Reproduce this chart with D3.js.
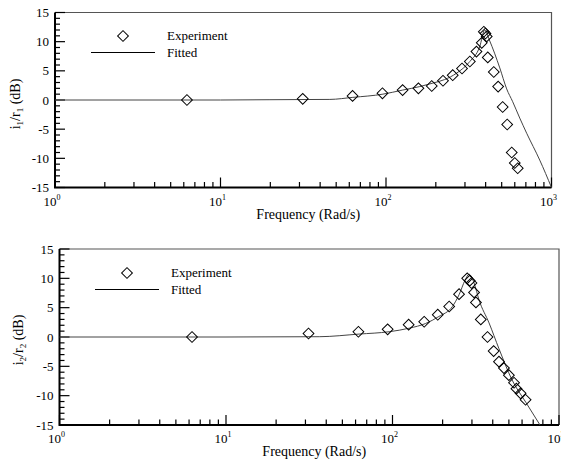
<!DOCTYPE html>
<html>
<head>
<meta charset="utf-8">
<script src="https://cdn.jsdelivr.net/npm/d3@7"></script>
<style>
body { margin: 0; background: #fff; }
</style>
</head>
<body>
<svg id="chart" width="561" height="465"></svg>
<script>
var TOP_EXP_FREQ = [6.27, 31.4, 62.8, 95.2, 126, 157, 189, 221, 253, 288, 321, 352, 379, 390, 399, 406, 412, 448, 476, 507, 540, 575, 600, 625];
var TOP_EXP_DB   = [0.0, 0.2, 0.7, 1.15, 1.7, 2.0, 2.4, 3.3, 4.25, 5.4, 6.6, 8.3, 9.8, 11.7, 11.4, 10.9, 7.3, 4.8, 2.3, -1.2, -4.2, -9.0, -10.8, -11.7];
var TOP_FIT_FREQ = [1, 10, 19.9, 45.8, 63, 95.7, 126, 160, 192, 226, 267, 321, 368, 395, 421, 487, 536, 583, 643, 708, 849, 1000];
var TOP_FIT_DB   = [0, 0, 0.05, 0.1, 0.45, 1.0, 1.7, 2.3, 2.9, 3.5, 4.6, 6.6, 9.1, 12.0, 10.3, 5.5, 1.9, -0.3, -3.1, -5.7, -10.3, -15];

var BOT_EXP_FREQ = [6.25, 31.3, 62.4, 93.5, 125, 155, 187, 219, 251, 281, 291, 298, 309, 317, 339, 372, 405, 436, 467, 500, 537, 555, 588, 630];
var BOT_EXP_DB   = [0.0, 0.6, 0.9, 1.3, 2.1, 2.6, 3.8, 5.2, 7.3, 10.0, 9.6, 9.2, 7.6, 5.9, 3.0, 0.0, -2.4, -4.2, -5.3, -6.5, -7.8, -8.8, -9.6, -10.7];
var BOT_FIT_FREQ = [1, 10, 36.3, 63, 95.5, 126, 158, 190, 229, 251, 273, 288, 309, 331, 380, 436, 522, 631, 769];
var BOT_FIT_DB   = [0, 0, 0.05, 0.5, 0.9, 1.5, 2.3, 3.5, 5.2, 7.2, 9.7, 10.7, 9.2, 6.3, 2.4, -2.0, -7.3, -11.1, -15];

var X_DOMAIN = [1, 1000];
var Y_DOMAIN = [-15, 15];
var Y_MAJOR = [-15, -10, -5, 0, 5, 10, 15];
var LEGEND_LABELS = ['Experiment', 'Fitted'];
var X_TITLE = 'Frequency (Rad/s)';

var FONT = "'Liberation Serif', 'DejaVu Serif', serif";

var svg = d3.select('#chart');

var panels = [
    { box: { l: 55, r: 551.5, t: 12.5, b: 187.5 }, sub: '1',
      expF: TOP_EXP_FREQ, expY: TOP_EXP_DB, fitF: TOP_FIT_FREQ, fitY: TOP_FIT_DB,
      legend: { x: 123, y: 36 }, ylab: { x: 20, y: 104 } },
    { box: { l: 59.5, r: 559, t: 249, b: 425 }, sub: '2',
      expF: BOT_EXP_FREQ, expY: BOT_EXP_DB, fitF: BOT_FIT_FREQ, fitY: BOT_FIT_DB,
      legend: { x: 127, y: 273 }, ylab: { x: 23, y: 340 } }
];

function label(sel, size) {
    return sel.style('font-family', FONT).style('font-size', size + 'px').attr('fill', '#000');
}

function drawPanel(p) {
    var b = p.box;
    var x = d3.scaleLog().domain(X_DOMAIN).range([b.l, b.r]);
    var y = d3.scaleLinear().domain(Y_DOMAIN).range([b.b, b.t]);
    var g = svg.append('g');

    // top/right frame
    g.append('path')
        .attr('d', 'M' + b.l + ',' + b.t + 'H' + b.r + 'V' + b.b)
        .attr('fill', 'none').attr('stroke', '#555').attr('stroke-width', 1.2);

    // x ticks, inward
    var xt = x.ticks();
    g.selectAll('.xt').data(xt).enter().append('line')
        .attr('x1', function(d) { return x(d); })
        .attr('x2', function(d) { return x(d); })
        .attr('y1', b.b)
        .attr('y2', function(d) { return Number.isInteger(Math.log10(d)) ? b.b - 10 : b.b - 5.5; })
        .attr('stroke', '#000').attr('stroke-width', 1.2);

    // y ticks, inward
    var yt = y.ticks(30);
    g.selectAll('.yt').data(yt).enter().append('line')
        .attr('y1', function(d) { return y(d); })
        .attr('y2', function(d) { return y(d); })
        .attr('x1', b.l)
        .attr('x2', function(d) { return d % 5 === 0 ? b.l + 10 : b.l + 5; })
        .attr('stroke', '#000').attr('stroke-width', 1.2);

    // left & bottom axis
    g.append('path')
        .attr('d', 'M' + b.l + ',' + b.t + 'V' + b.b + 'H' + b.r)
        .attr('fill', 'none').attr('stroke', '#000').attr('stroke-width', 2);

    // y labels
    label(g.selectAll('.yl').data(Y_MAJOR).enter().append('text'), 13)
        .attr('x', b.l - 6)
        .attr('y', function(d) { return y(d) + 4.5; })
        .attr('text-anchor', 'end')
        .text(function(d) { return d; });

    // x labels 10^n
    var xl = label(g.selectAll('.xl').data(x.ticks().filter(function(d) { return Number.isInteger(Math.log10(d)); }))
        .enter().append('text'), 13)
        .attr('x', function(d) { return x(d) - 3; })
        .attr('y', b.b + 18)
        .attr('text-anchor', 'middle');
    xl.append('tspan').text('10');
    xl.append('tspan').attr('dy', -6).style('font-size', '8px')
        .text(function(d) { return Math.round(Math.log10(d)); });

    label(g.append('text'), 14)
        .attr('x', (b.l + b.r) / 2 + 5)
        .attr('y', b.b + 31)
        .attr('text-anchor', 'middle')
        .text(X_TITLE);

    // y title
    var yl = label(g.append('text'), 14)
        .attr('transform', 'translate(' + p.ylab.x + ',' + p.ylab.y + ') rotate(-90)')
        .attr('text-anchor', 'middle');
    yl.append('tspan').text('i');
    yl.append('tspan').attr('dy', 3).style('font-size', '9px').text(p.sub);
    yl.append('tspan').attr('dy', -3).text('/r');
    yl.append('tspan').attr('dy', 3).style('font-size', '9px').text(p.sub);
    yl.append('tspan').attr('dy', -3).text(' (dB)');

    // fitted curve
    var fit = p.fitF.map(function(f, i) { return [f, p.fitY[i]]; });
    g.append('path')
        .datum(fit)
        .attr('d', d3.line()
            .x(function(d) { return x(d[0]); })
            .y(function(d) { return y(d[1]); })
            .curve(d3.curveMonotoneX))
        .attr('fill', 'none').attr('stroke', '#444').attr('stroke-width', 1);

    // experiment diamonds
    var diamond = d3.symbol().type(d3.symbolSquare).size(58);
    var exp = p.expF.map(function(f, i) { return [f, p.expY[i]]; });
    g.selectAll('.dm').data(exp).enter().append('path')
        .attr('d', diamond)
        .attr('transform', function(d) { return 'translate(' + x(d[0]) + ',' + y(d[1]) + ') rotate(45)'; })
        .attr('fill', 'none').attr('stroke', '#000').attr('stroke-width', 1);

    // legend
    var lg = p.legend;
    g.append('path')
        .attr('d', diamond)
        .attr('transform', 'translate(' + lg.x + ',' + lg.y + ') rotate(45)')
        .attr('fill', 'none').attr('stroke', '#000').attr('stroke-width', 1);
    g.append('line')
        .attr('x1', lg.x - 32).attr('x2', lg.x + 32)
        .attr('y1', lg.y + 16.5).attr('y2', lg.y + 16.5)
        .attr('stroke', '#000').attr('stroke-width', 1);
    label(g.selectAll('.lt').data(LEGEND_LABELS).enter().append('text'), 13)
        .attr('x', lg.x + 44)
        .attr('y', function(d, i) { return lg.y + 4 + i * 16.5; })
        .text(function(d) { return d; });
}

panels.forEach(drawPanel);
</script>
</body>
</html>
